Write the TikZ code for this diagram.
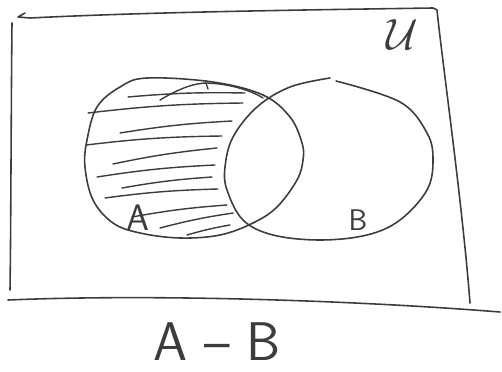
\documentclass[tikz,border=0pt]{standalone}
\usetikzlibrary{calc}
\definecolor{pencil}{RGB}{60,60,60}

\begin{document}
\begin{tikzpicture}[x=0.02cm,y=-0.02cm]

		\def\thick{0.9pt}

		\tikzset{line/.style={draw=pencil,line width=\thick,line cap=round,line join=round}}
		\tikzset{hatch/.style={line,line width=0.8pt}}
		\tikzset{label/.style={text=pencil,inner sep=0pt,font=\sffamily}}

		\useasboundingbox (0,0) rectangle (502,371);

		% universe frame
		\draw[line] (25,13) -- (18,17) -- (30,18) .. controls (150,12) and (300,10) .. (433,8) -- (437,10)
			.. controls (442,60) and (462,200) .. (470,303);
		\draw[line] (12,23) .. controls (11,120) and (11,220) .. (10,290);
		\draw[line] (8,300) .. controls (150,294) and (350,300) .. (500,312);

		% set A
		\draw[line] plot[smooth cycle,tension=0.6] coordinates {(147,78) (213,82) (263,95) (290,117) (302,143)
			(303,160) (297,180) (277,207) (253,223) (220,235) (180,238) (140,233) (113,223) (93,200) (85,167)
			(87,140) (97,107) (120,87)};

		% set B
		\draw[line] plot[smooth,tension=0.6] coordinates {(336,81) (400,102) (427,133) (433,160) (427,190)
			(400,220) (367,235) (320,240) (273,235) (243,220) (227,190) (225,167) (233,137) (257,107)
			(290,87) (330,78)};

		% shading of A - B
		\foreach \xa/\ya/\xb/\yb in {128/97/245/93, 88/113/243/103, 120/133/232/121, 86/145/222/136,
			113/164/217/148, 97/177/215/165, 122/188/212/177, 105/198/218/189, 132/217/227/205,
			160/228/233/213, 187/235/230/225}
			\draw[hatch] (\xa,\ya) to[bend left=3] (\xb,\yb);
		\draw[hatch] (160,100) .. controls (180,88) and (195,83) .. (207,83) .. controls (230,84) and (250,90) .. (263,98);
		\draw[hatch] (206,83) -- (208,89);

		\node[label,font=\fontsize{28}{30}\selectfont] (U) at (402,35) {$\mathcal{U}$};
		\node[label,font=\sffamily\fontsize{21}{24}\selectfont] (labA) at (138,218) {A};
		\node[label,font=\sffamily\fontsize{17}{20}\selectfont] (labB) at (358,220) {B};
		\node[label,font=\sffamily\fontsize{31}{34}\selectfont] (title) at (217,342) {A -- B};

	\end{tikzpicture}
\end{document}
